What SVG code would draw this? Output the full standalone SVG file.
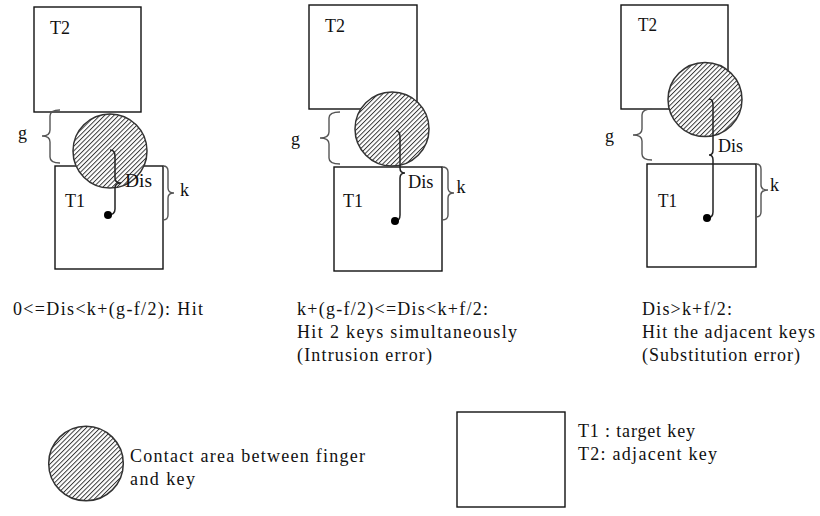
<svg xmlns="http://www.w3.org/2000/svg" width="820" height="516" viewBox="0 0 820 516">
<style>
.key{fill:none;stroke:#111;stroke-width:1.4}
.contact{fill:url(#hatch);stroke:#333;stroke-width:1.5}
.brace{fill:none;stroke:#555;stroke-width:1.4}
.dis{fill:none;stroke:#222;stroke-width:1.5}
.dot{fill:#000}
text{font-family:"Liberation Serif","Times New Roman",serif;font-size:18px;fill:#111}
</style>
<defs>
<pattern id="hatch" patternUnits="userSpaceOnUse" width="10" height="3.3" patternTransform="rotate(-45)">
<rect x="0" y="0" width="10" height="3.3" fill="#fff"/>
<rect x="0" y="0" width="10" height="0.95" fill="#333"/>
</pattern>
</defs>
<rect width="820" height="516" fill="#fff"/>

<g id="panel1">
<g id="p1-T2"><rect class="key" x="34" y="7" width="107" height="105"/><text x="50" y="33.5" textLength="20" lengthAdjust="spacingAndGlyphs">T2</text></g>
<g id="p1-T1"><rect class="key" x="55" y="166" width="108" height="103"/><text x="65" y="206.5" textLength="20" lengthAdjust="spacingAndGlyphs">T1</text></g>
<g id="p1-contact"><circle class="contact" cx="110" cy="151" r="37"/></g>
</g>

<g id="panel2">
<g id="p2-T2"><rect class="key" x="309" y="5" width="108" height="104"/><text x="325" y="31.5" textLength="20" lengthAdjust="spacingAndGlyphs">T2</text></g>
<g id="p2-T1"><rect class="key" x="334" y="167" width="108" height="104"/><text x="343" y="206.5" textLength="20" lengthAdjust="spacingAndGlyphs">T1</text></g>
<g id="p2-contact"><circle class="contact" cx="392" cy="129" r="37"/></g>
</g>

<g id="panel3">
<g id="p3-T2"><rect class="key" x="621" y="5" width="107" height="104"/><text x="638" y="30.5" textLength="19" lengthAdjust="spacingAndGlyphs">T2</text></g>
<g id="p3-T1"><rect class="key" x="647" y="164" width="109" height="103"/><text x="658" y="206.5" textLength="19" lengthAdjust="spacingAndGlyphs">T1</text></g>
<g id="p3-contact"><circle class="contact" cx="705" cy="99.5" r="37"/></g>
</g>

<g id="connectors">
<path class="brace" d="M60,110 Q50,110 50,116 L50,130 Q50,136 42,136 Q50,136 50,142 L50,157 Q50,163 60,163"/>
<path class="brace" d="M340,112 Q329,112 329,118 L329,132 Q329,138 320,138 Q329,138 329,144 L329,158 Q329,164 340,164"/>
<path class="brace" d="M652,109 Q642,109 642,115 L642,129 Q642,135 633,135 Q642,135 642,141 L642,154 Q642,160 652,160"/>
<path class="brace" d="M163,166 Q168,166 168,171 L168,188 Q168,193 174,193 Q168,193 168,198 L168,215 Q168,220 163,220"/>
<path class="brace" d="M442,167 Q448,167 448,172 L448,188 Q448,193 454,193 Q448,193 448,198 L448,215 Q448,220 442,220"/>
<path class="brace" d="M756,164 Q761,164 761,169 L761,185 Q761,190 768,190 Q761,190 761,195 L761,212 Q761,217 756,217"/>
<path class="dis" d="M110,150 Q115,150 115,156 L115,178 Q115,183 121,183 Q115,183 115,188 L115,209 Q115,215 108,215"/>
<path class="dis" d="M396,131 Q400,131 400,137 L400,168 Q400,173 405,173 Q400,173 400,178 L400,215 Q400,221 395,221"/>
<path class="dis" d="M709,99 Q713,99 713,105 L713,150 Q713,155 709,155 Q713,155 713,160 L713,212 Q713,218 707,218"/>
<circle class="dot" cx="108" cy="215" r="4"/>
<circle class="dot" cx="395" cy="221" r="4"/>
<circle class="dot" cx="707" cy="218" r="4"/>
</g>

<g id="labels">
<text x="18" y="138.5">g</text>
<text x="291" y="145">g</text>
<text x="605" y="142">g</text>
<text x="180" y="196">k</text>
<text x="456.5" y="193">k</text>
<text x="770" y="190.5">k</text>
<text x="125" y="186.5" textLength="27" lengthAdjust="spacingAndGlyphs">Dis</text>
<text x="408" y="188" textLength="25.5" lengthAdjust="spacingAndGlyphs">Dis</text>
<text x="718" y="151.5" textLength="25" lengthAdjust="spacingAndGlyphs">Dis</text>
</g>

<g id="caption1"><text x="13" y="315" textLength="190" lengthAdjust="spacing">0&lt;=Dis&lt;k+(g-f/2): Hit</text></g>
<g id="caption2">
<text x="297" y="315" textLength="191" lengthAdjust="spacing">k+(g-f/2)&lt;=Dis&lt;k+f/2:</text>
<text x="297" y="338" textLength="220" lengthAdjust="spacing">Hit 2 keys simultaneously</text>
<text x="297" y="360.5" textLength="135" lengthAdjust="spacing">(Intrusion error)</text>
</g>
<g id="caption3">
<text x="642" y="315" textLength="90" lengthAdjust="spacing">Dis&gt;k+f/2:</text>
<text x="642" y="338" textLength="173" lengthAdjust="spacing">Hit the adjacent keys</text>
<text x="642" y="361" textLength="158" lengthAdjust="spacing">(Substitution error)</text>
</g>

<g id="legend-contact">
<circle class="contact" cx="86" cy="463.5" r="37.3"/>
<text x="130" y="461.5" textLength="235" lengthAdjust="spacing">Contact area between finger</text>
<text x="130" y="485" textLength="65" lengthAdjust="spacing">and key</text>
</g>
<g id="legend-key">
<rect class="key" x="457" y="412" width="108" height="95"/>
<text x="578" y="437" textLength="117" lengthAdjust="spacing">T1 : target key</text>
<text x="578" y="460" textLength="139" lengthAdjust="spacing">T2: adjacent key</text>
</g>
</svg>
